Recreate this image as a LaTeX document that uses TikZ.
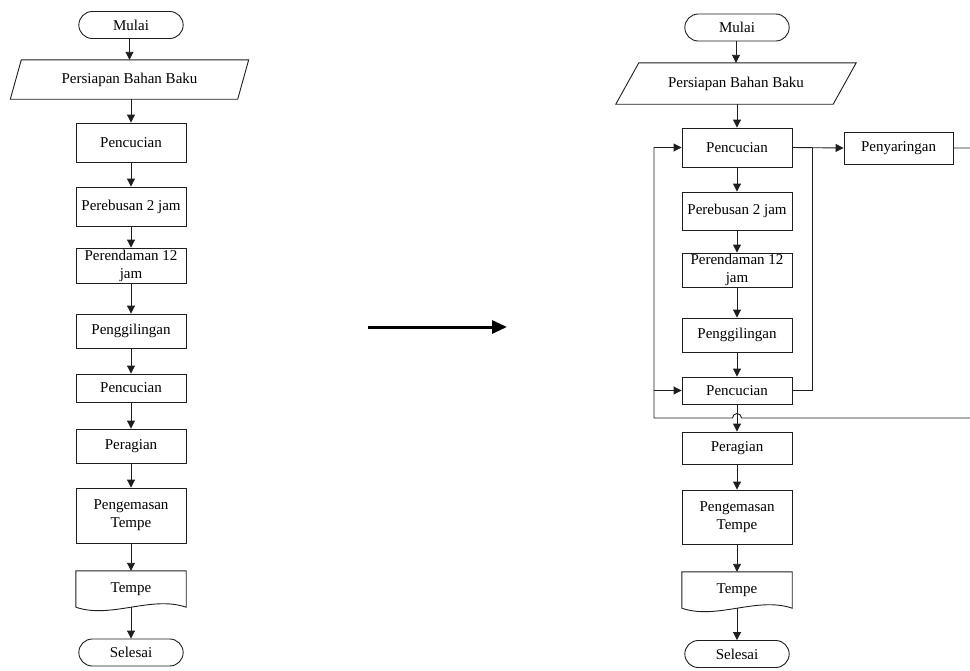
\documentclass[tikz,border=0pt]{standalone}
\usepackage{fontspec}
\setmainfont{Liberation Serif}
\usetikzlibrary{shapes.misc,arrows.meta}
\definecolor{flowline}{RGB}{30,30,30}

\begin{document}
\begin{tikzpicture}[x=1pt,y=-1pt,font=\fontsize{15}{18}\selectfont,
    garis/.style={draw=flowline,line width=0.9pt},
    proc/.style={garis,rectangle,minimum width=110pt,align=center,inner sep=1pt},
    term/.style={garis,rounded rectangle,minimum width=111pt,minimum height=27pt},
    io/.style={rectangle,inner sep=1pt},
    doc/.style={rectangle,minimum width=110pt,minimum height=36pt,inner sep=1pt},
    flow/.style={garis,-{Triangle[length=8pt,width=8pt]}}]
  \useasboundingbox (0,0) rectangle (970,670);
  % alur lama
  \node[term] (mulaiL) at (131,25) {Mulai};
  \node[io,minimum width=227pt,minimum height=39pt] (bahanL) at (129.5,79.5) {Persiapan Bahan Baku};
  \node[proc,minimum height=39pt] (cuci1L) at (131,142.5) {Pencucian};
  \node[proc,minimum height=39pt] (rebusL) at (131,206.5) {Perebusan 2 jam};
  \node[proc,minimum height=35pt] (rendamL) at (131,265.5) {Perendaman 12\\jam};
  \node[proc,minimum height=34pt] (gilingL) at (131,331) {Penggilingan};
  \node[proc,minimum height=28pt] (cuci2L) at (131,388) {Pencucian};
  \node[proc,minimum height=34pt] (ragiL) at (131,446) {Peragian};
  \node[proc,minimum height=55pt] (kemasL) at (131,515.5) {Pengemasan\\Tempe};
  \node[doc] (tempeL) at (131,589) {Tempe};
  \node[term] (selesaiL) at (131,652.5) {Selesai};
  \foreach \a/\b in {mulaiL/bahanL,bahanL/cuci1L,cuci1L/rebusL,rebusL/rendamL,rendamL/gilingL,
      gilingL/cuci2L,cuci2L/ragiL,ragiL/kemasL,kemasL/tempeL,tempeL/selesaiL}
    \draw[flow] (\b.north |- \a.south) -- (\b.north);

  % panah tengah
  \coordinate (panahA) at (368,327);
  \coordinate (panahB) at (507,327);
  \draw[line width=3pt,-{Triangle[length=15pt,width=13pt]}] (panahA) -- (panahB);

  % alur baru
  \node[term] (mulaiR) at (737,27.5) {Mulai};
  \node[io,minimum width=217pt,minimum height=41pt] (bahanR) at (736,83.5) {Persiapan Bahan Baku};
  \node[proc,minimum height=39pt] (cuci1R) at (737,147.5) {Pencucian};
  \node[proc,minimum height=38pt] (rebusR) at (737,211) {Perebusan 2 jam};
  \node[proc,minimum height=34pt] (rendamR) at (737,270) {Perendaman 12\\jam};
  \node[proc,minimum height=34pt] (gilingR) at (737,335) {Penggilingan};
  \node[proc,minimum height=27pt] (cuci2R) at (737,390.5) {Pencucian};
  \node[proc,minimum height=32pt] (ragiR) at (737,448) {Peragian};
  \node[proc,minimum height=54pt] (kemasR) at (737,517) {Pengemasan\\Tempe};
  \node[doc] (tempeR) at (737,590) {Tempe};
  \node[term] (selesaiR) at (737,654) {Selesai};
  \node[proc,minimum width=109pt,minimum height=32pt] (saringR) at (898.5,148) {Penyaringan};
  \foreach \a/\b in {mulaiR/bahanR,bahanR/cuci1R,cuci1R/rebusR,rebusR/rendamR,rendamR/gilingR,
      gilingR/cuci2R,cuci2R/ragiR,ragiR/kemasR,kemasR/tempeR,tempeR/selesaiR}
    \draw[flow] (\b.north |- \a.south) -- (\b.north);

  % jajaran genjang dan dokumen
  \foreach \n/\d in {bahanL/5.5,bahanR/11.5}
    \draw[garis] ([xshift=-\d pt]\n.south west) -- ([xshift=\d pt]\n.north west)
      -- ([xshift=\d pt]\n.north east) -- ([xshift=-\d pt]\n.south east) -- cycle;
  \foreach \n in {tempeL,tempeR}
    \draw[garis] (\n.south west) -- (\n.north west) -- (\n.north east) -- (\n.south east)
      .. controls +(-35,-12) and +(35,12) .. (\n.south west);

  % putaran penyaringan
  \coordinate (gabung) at (812,148);
  \coordinate (sudut) at (990,418);
  \coordinate (lompat) at (741.5,418);
  \coordinate (kiri) at (654,418);
  \coordinate (cabang) at (654,390.5);
  \draw[flow] (cuci1R.east) -- (saringR.west);
  \draw[garis] (cuci2R.east) -| (gabung);
  \draw[flow] (saringR.east) -| (sudut) -- (lompat)
    arc[start angle=0,end angle=180,radius=4.5pt] -- (kiri) |- (cuci1R.west);
  \draw[flow] (cabang) -- (cuci2R.west);
\end{tikzpicture}
\end{document}
